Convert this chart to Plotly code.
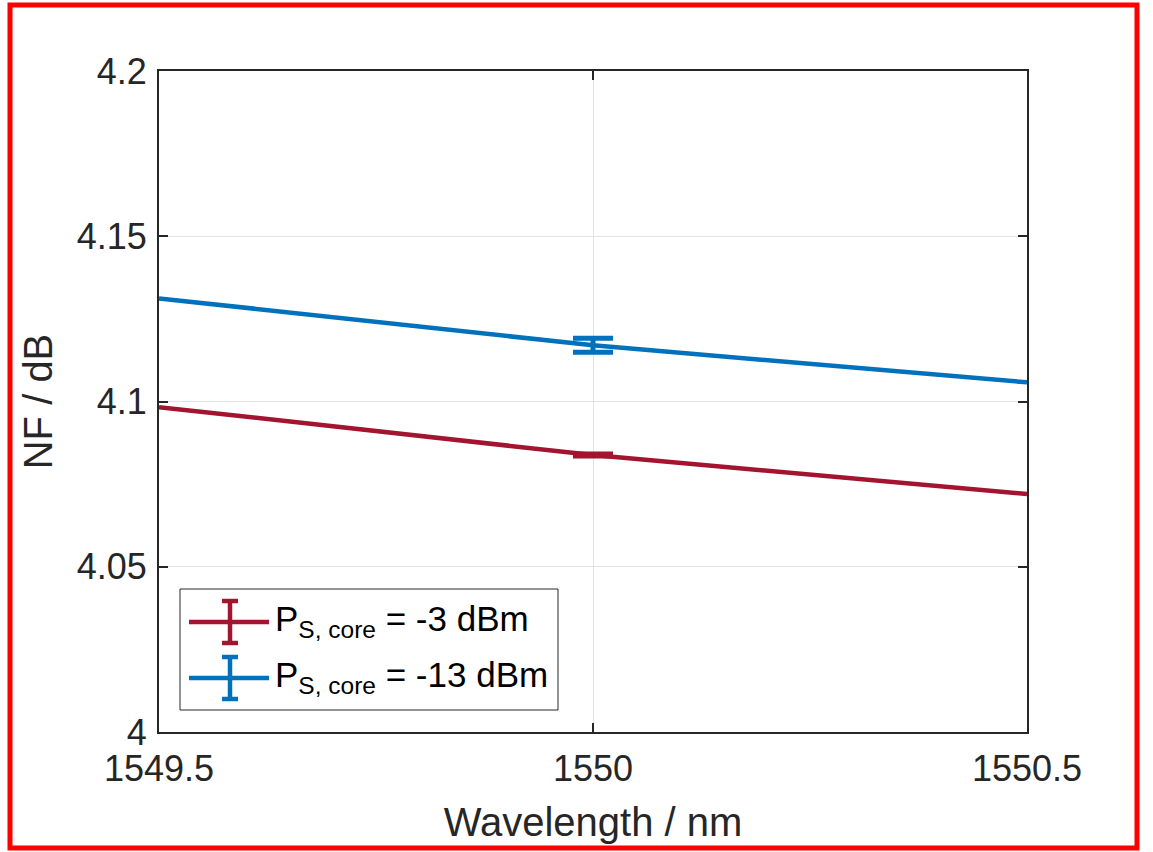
import plotly.graph_objects as go

# ---------------- data ----------------
wavelength_nm = [1549.5, 1550.0, 1550.5]
nf_m3dbm = [4.0983, 4.0838, 4.0720]
nf_m13dbm = [4.1312, 4.1170, 4.1058]
err_idx = 1  # error bars only at the centre wavelength
err_m3dbm = 0.0003
err_m13dbm = 0.0021

series_names = ["P<sub>S, core</sub> = -3 dBm", "P<sub>S, core</sub> = -13 dBm"]
series_colors = ["#A2142F", "#0072BD"]

x_tickvals = [1549.5, 1550.0, 1550.5]
x_ticktext = ["1549.5", "1550", "1550.5"]
y_tickvals = [4.0, 4.05, 4.1, 4.15, 4.2]
y_ticktext = ["4", "4.05", "4.1", "4.15", "4.2"]

# ---------------- layout helpers ----------------
W, H = 1153, 852
ML, MR, MT, MB = 159, 126, 71, 120
PW, PH = W - ML - MR, H - MT - MB


def px(p):
    return (p - ML) / PW


def py(p):
    return (H - MB - p) / PH


FONT = "Liberation Sans, Arial, Helvetica, sans-serif"
TXT = "#262626"

fig = go.Figure()

series = [
    (nf_m3dbm, err_m3dbm, series_names[0], series_colors[0]),
    (nf_m13dbm, err_m13dbm, series_names[1], series_colors[1]),
]
for ys, err, name, col in series:
    fig.add_trace(go.Scatter(
        x=wavelength_nm, y=ys, mode="lines", name=name,
        line=dict(color=col, width=4.5), showlegend=False,
    ))
    fig.add_trace(go.Scatter(
        x=[wavelength_nm[err_idx]], y=[ys[err_idx]], mode="markers",
        marker=dict(size=1, color=col, opacity=0),
        error_y=dict(type="constant", value=err, color=col, thickness=5, width=20),
        showlegend=False, hoverinfo="skip",
    ))

shapes = []
annotations = []

# red outer border
shapes.append(dict(type="rect", xref="paper", yref="paper",
                   x0=px(10), x1=px(1137), y0=py(848), y1=py(5),
                   line=dict(color="#FF0000", width=5), fillcolor="rgba(0,0,0,0)",
                   layer="above"))

# custom legend
shapes.append(dict(type="rect", xref="paper", yref="paper",
                   x0=px(180), x1=px(558), y0=py(710), y1=py(589),
                   line=dict(color="#262626", width=1), fillcolor="white",
                   layer="above"))
legend_rows = [622, 678]
for (ys, err, name, col), yc in zip(series, legend_rows):
    shapes.append(dict(type="line", xref="paper", yref="paper",
                       x0=px(189), x1=px(269), y0=py(yc), y1=py(yc),
                       line=dict(color=col, width=4.5), layer="above"))
    shapes.append(dict(type="line", xref="paper", yref="paper",
                       x0=px(230), x1=px(230), y0=py(yc - 21), y1=py(yc + 21),
                       line=dict(color=col, width=4.5), layer="above"))
    for dy in (-21, 21):
        shapes.append(dict(type="line", xref="paper", yref="paper",
                           x0=px(222), x1=px(238), y0=py(yc + dy), y1=py(yc + dy),
                           line=dict(color=col, width=4.5), layer="above"))
    annotations.append(dict(xref="paper", yref="paper", x=px(273), y=py(yc - 1),
                            xanchor="left", yanchor="middle", showarrow=False,
                            text=name, font=dict(family=FONT, size=35, color="black")))

fig.update_layout(
    width=W, height=H,
    margin=dict(l=ML, r=MR, t=MT, b=MB, pad=0),
    paper_bgcolor="white", plot_bgcolor="white",
    font=dict(family=FONT, color=TXT, size=35),
    showlegend=False,
    shapes=shapes, annotations=annotations,
    xaxis=dict(
        range=[1549.5, 1550.5], tickvals=x_tickvals, ticktext=x_ticktext,
        showgrid=True, gridcolor="#E3E3E3", gridwidth=1, zeroline=False,
        showline=True, linecolor=TXT, linewidth=2, mirror="ticks",
        ticks="inside", ticklen=9, tickwidth=2, tickcolor=TXT,
        ticklabelstandoff=4,
        tickfont=dict(family=FONT, size=36, color=TXT),
        title=dict(text="Wavelength / nm", font=dict(family=FONT, size=40, color=TXT), standoff=20),
    ),
    yaxis=dict(
        range=[4.0, 4.2], tickvals=y_tickvals, ticktext=y_ticktext,
        showgrid=True, gridcolor="#E3E3E3", gridwidth=1, zeroline=False,
        showline=True, linecolor=TXT, linewidth=2, mirror="ticks",
        ticks="inside", ticklen=9, tickwidth=2, tickcolor=TXT,
        ticklabelstandoff=3,
        tickfont=dict(family=FONT, size=36, color=TXT),
        title=dict(text="NF / dB", font=dict(family=FONT, size=40, color=TXT), standoff=12),
    ),
)

fig.write_html("out.html")
